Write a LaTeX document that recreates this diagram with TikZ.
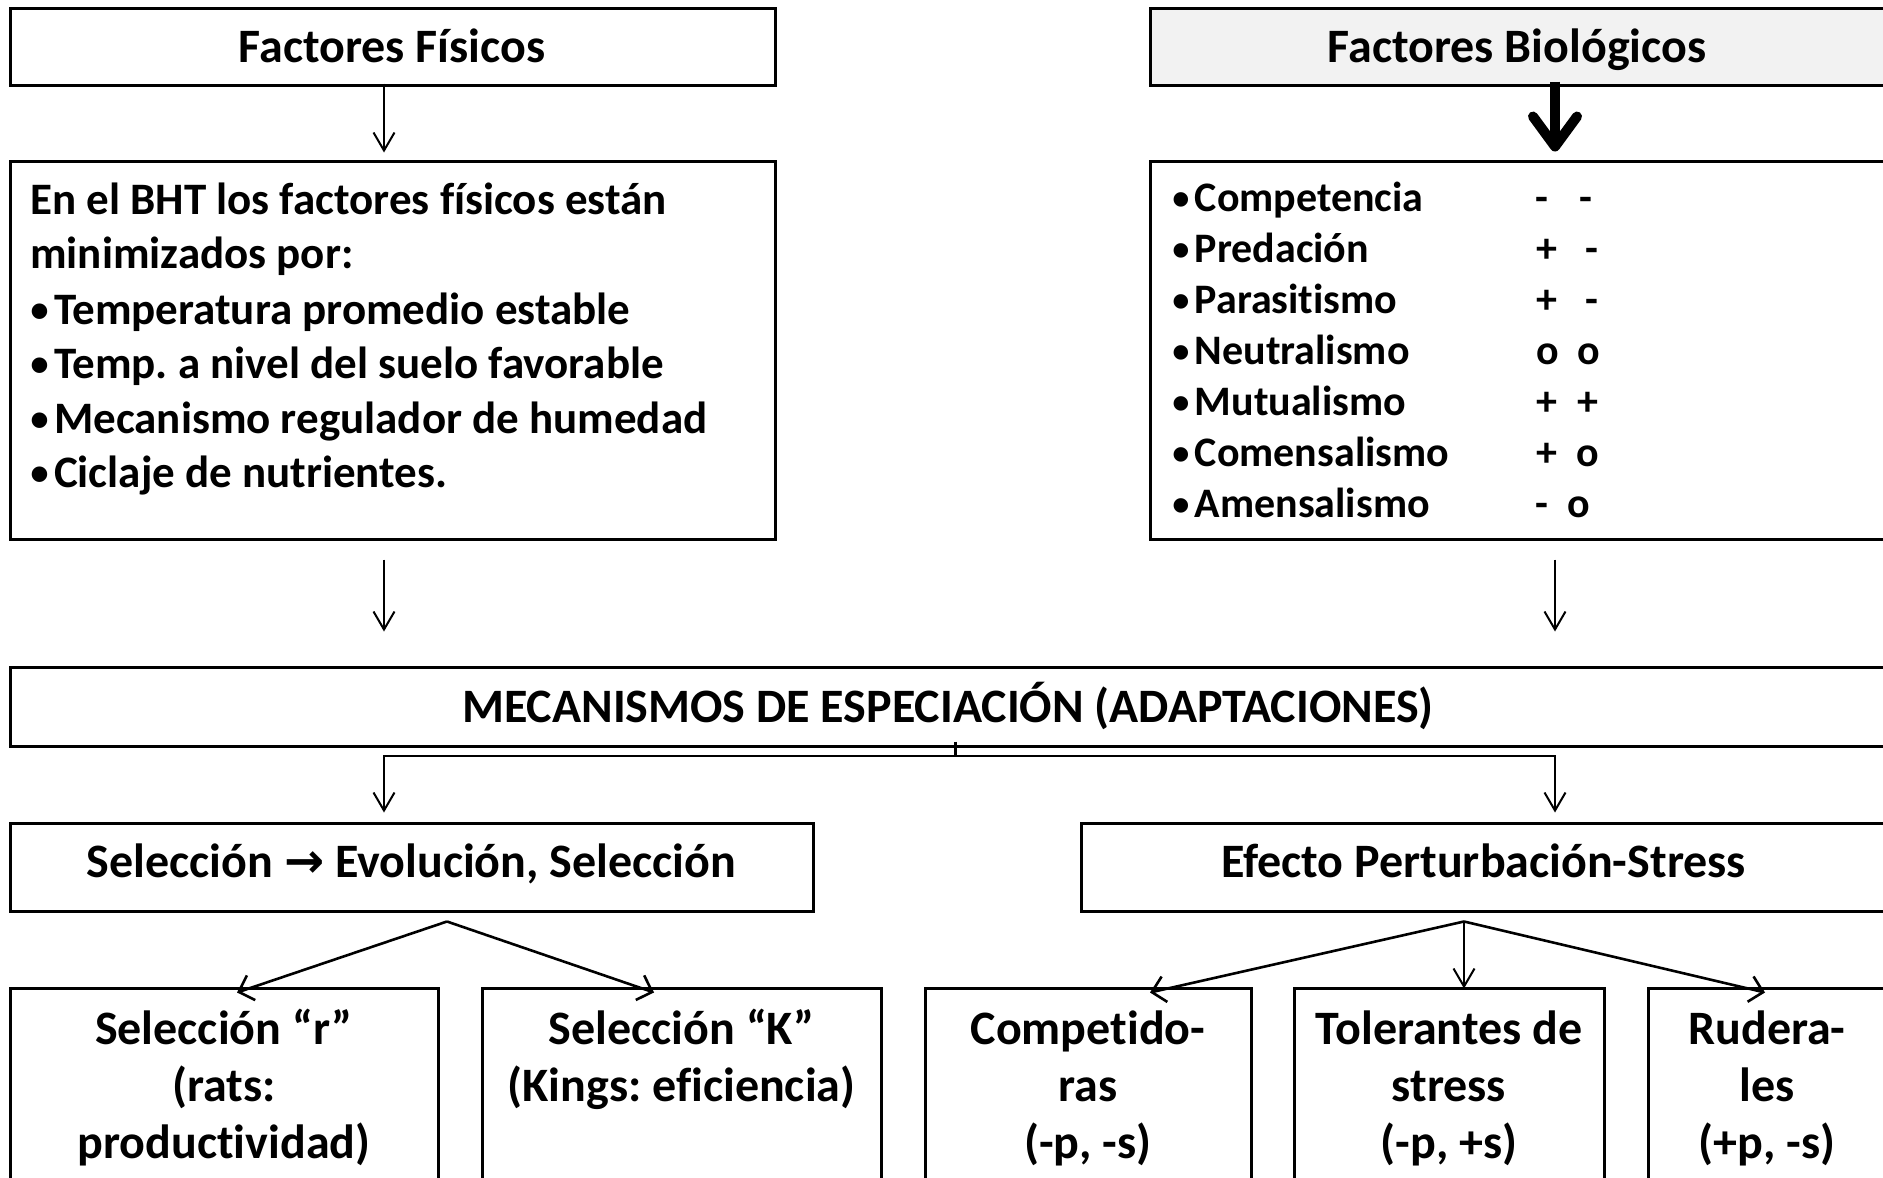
\documentclass[tikz,border=0pt]{standalone}
\usepackage{fontspec}
\usepackage{graphicx}
\setmainfont{Carlito}[Ligatures=CommonOff]
\newfontfamily\dejavu{DejaVu Sans}
\newfontfamily\bulletfont{Liberation Sans}
\newcommand{\bul}{\raisebox{-0.12em}{\scalebox{1.2}{\bulletfont\bfseries •}}\hspace{5pt}}
\usetikzlibrary{arrows.meta}
\begin{document}
\frenchspacing
\begin{tikzpicture}[x=1pt,y=-1pt,
  box/.style={draw, line width=3pt, inner sep=0pt},
  ltxt/.style={inner sep=0pt, anchor=base west, font=\fontsize{45}{54}\selectfont\bfseries},
  btxt/.style={inner sep=0pt, anchor=base west, font=\fontsize{42}{50}\selectfont\bfseries},
  sgn/.style={inner sep=0pt, anchor=base, font=\fontsize{42}{50}\selectfont\bfseries},
  ctxt/.style={inner sep=0pt, anchor=base, font=\fontsize{48}{56}\selectfont\bfseries},
  thinarrow/.style={line width=2pt, -{Straight Barb[length=18pt,width=21pt,line width=2pt]}},
  diagarrow/.style={line width=2.6pt, -{Straight Barb[length=13pt,width=26pt,line width=2.6pt]}},
  thickarrow/.style={line width=10pt, -{Straight Barb[length=30pt,width=44pt,line width=10pt,round]}},
]
\clip (0,0) rectangle (1883,1178);
\fill[white] (0,0) rectangle (1883,1178);

% boxes
\node[box, minimum width=765pt, minimum height=77pt] (ff) at (392.5,46.5) {};
\node[box, minimum width=765pt, minimum height=378pt] (phys) at (392.5,350) {};
\node[box, fill={rgb,255:red,242;green,242;blue,242}, minimum width=736pt, minimum height=77pt] (fb) at (1518,46.5) {};
\node[box, minimum width=736pt, minimum height=378pt] (bio) at (1518,350) {};
\node[box, minimum width=1876pt, minimum height=79pt] (mec) at (948,706.5) {};
\node[box, minimum width=803pt, minimum height=88pt] (sel) at (411.5,867) {};
\node[box, minimum width=805pt, minimum height=88pt] (efe) at (1483.5,867) {};
\node[box, minimum width=428pt, minimum height=207pt] (rbox) at (224,1091.5) {};
\node[box, minimum width=399pt, minimum height=207pt] (kbox) at (681.5,1091.5) {};
\node[box, minimum width=326pt, minimum height=207pt] (comp) at (1088,1091.5) {};
\node[box, minimum width=310pt, minimum height=207pt] (tol) at (1449,1091.5) {};
\node[box, minimum width=238pt, minimum height=207pt] (rud) at (1767,1091.5) {};

% headings
\node[ctxt] (tff) at (392,62) {Factores Físicos};
\node[ctxt] (tfb) at (1517,62) {Factores Biológicos};
\node[ctxt] (tmec) at (948,722) {MECANISMOS DE ESPECIACIÓN (ADAPTACIONES)};
\node[ctxt] (tsel) at (411.5,877) {Selección {\dejavu\bfseries\fontsize{48}{56}\selectfont →} Evolución, Selección};
\node[ctxt] (tefe) at (1483.5,877) {Efecto Perturbación-Stress};

% physical factors text
\node[ltxt] (p1) at (30,214) {En el BHT los factores físicos están};
\node[ltxt] (p2) at (30,268) {minimizados por:};
\node[ltxt] (p3) at (30,324) {\bul Temperatura promedio estable};
\node[ltxt] (p4) at (30,378) {\bul Temp. a nivel del suelo favorable};
\node[ltxt] (p5) at (30,433) {\bul Mecanismo regulador de humedad};
\node[ltxt] (p6) at (30,487) {\bul Ciclaje de nutrientes.};

% biological list
\node[btxt] (b1) at (1172,211) {\bul Competencia};
\node[btxt] (b2) at (1172,262) {\bul Predación};
\node[btxt] (b3) at (1172,313) {\bul Parasitismo};
\node[btxt] (b4) at (1172,364) {\bul Neutralismo};
\node[btxt] (b5) at (1172,415) {\bul Mutualismo};
\node[btxt] (b6) at (1172,466) {\bul Comensalismo};
\node[btxt] (b7) at (1172,517) {\bul Amensalismo};
\node[sgn] (s1a) at (1542,211) {-};  \node[sgn] (s1b) at (1586,211) {-};
\node[sgn] (s2a) at (1547,262) {+};  \node[sgn] (s2b) at (1592,262) {-};
\node[sgn] (s3a) at (1547,313) {+};  \node[sgn] (s3b) at (1592,313) {-};
\node[sgn] (s4a) at (1548,364) {o};  \node[sgn] (s4b) at (1589,364) {o};
\node[sgn] (s5a) at (1547,415) {+};  \node[sgn] (s5b) at (1588,415) {+};
\node[sgn] (s6a) at (1547,466) {+};  \node[sgn] (s6b) at (1588,466) {o};
\node[sgn] (s7a) at (1542,517) {-};  \node[sgn] (s7b) at (1579,517) {o};

% bottom box texts
\node[ctxt] (r1) at (224,1044) {Selección “r”};
\node[ctxt] (r2) at (224,1101) {(rats:};
\node[ctxt] (r3) at (224,1158) {productividad)};
\node[ctxt] (k1) at (681.5,1044) {Selección “K”};
\node[ctxt] (k2) at (681.5,1101) {(Kings: eficiencia)};
\node[ctxt] (c1) at (1088,1044) {Competido-};
\node[ctxt] (c2) at (1088,1101) {ras};
\node[ctxt] (c3) at (1088,1158) {(-p, -s)};
\node[ctxt] (t1) at (1449,1044) {Tolerantes de};
\node[ctxt] (t2) at (1449,1101) {stress};
\node[ctxt] (t3) at (1449,1158) {(-p, +s)};
\node[ctxt] (u1) at (1767,1044) {Rudera-};
\node[ctxt] (u2) at (1767,1101) {les};
\node[ctxt] (u3) at (1767,1158) {(+p, -s)};

% column coordinates
\coordinate (colL) at (384,0);
\coordinate (colR) at (1555,0);

% connectors
\draw[thinarrow] ([yshift=3pt]colL |- ff.south) -- ([yshift=7pt]colL |- phys.north);
\draw[thickarrow] ([yshift=5pt]colR |- fb.south) -- ([yshift=8pt]colR |- bio.north);
\draw[thinarrow] ([yshift=-19pt]colL |- phys.south) -- ([yshift=34pt]colL |- mec.north);
\draw[thinarrow] ([yshift=-19pt]colR |- bio.south) -- ([yshift=34pt]colR |- mec.north);

\coordinate (split) at ([xshift=7pt,yshift=-8pt]mec.south);
\draw[line width=3pt] ([yshift=6pt]mec.south -| split) -- (split);
\draw[thinarrow] (split) -| ([yshift=9pt]colL |- sel.north);
\draw[thinarrow] (split) -| ([yshift=9pt]colR |- efe.north);

\coordinate (selfork) at ([xshift=35.5pt,yshift=-9pt]sel.south);
\draw[diagarrow] (selfork) -- ([xshift=13pt,yshift=-6pt]rbox.north);
\draw[diagarrow] (selfork) -- ([xshift=-27.5pt,yshift=-6pt]kbox.north);

\coordinate (efefork) at ([xshift=-19.5pt,yshift=-9pt]efe.south);
\draw[diagarrow] (efefork) -- ([xshift=62pt,yshift=-6pt]comp.north);
\draw[thinarrow] (efefork) -- ([yshift=-2pt]efefork |- tol.north);
\draw[diagarrow] (efefork) -- ([xshift=-2pt,yshift=-6pt]rud.north);
\end{tikzpicture}
\end{document}
